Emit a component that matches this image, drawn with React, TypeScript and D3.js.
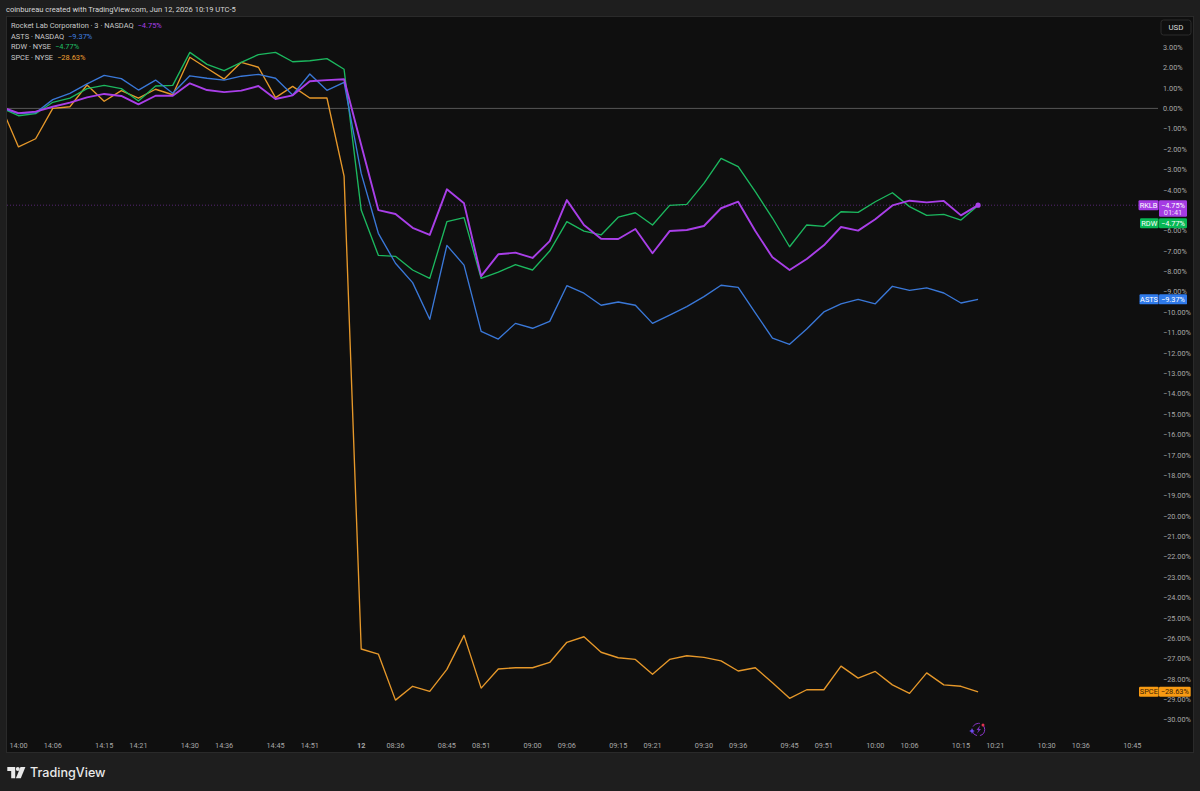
import React from "react";
import * as d3 from "d3";

const barIndex = d3.range(-1, 57);
const rklb = [0.07,-0.23,-0.16,0.08,0.28,0.54,0.71,0.61,0.20,0.62,0.62,1.23,0.90,0.80,0.87,1.10,0.46,0.64,1.33,1.39,1.43,-1.80,-4.99,-5.18,-5.86,-6.21,-3.97,-4.66,-8.23,-7.16,-7.08,-7.34,-6.51,-4.50,-5.72,-6.40,-6.41,-5.92,-7.11,-6.02,-5.97,-5.77,-4.90,-4.58,-6.02,-7.31,-7.93,-7.39,-6.72,-5.82,-6.00,-5.44,-4.76,-4.53,-4.61,-4.54,-5.25,-4.75];
const asts = [0.02,-0.25,-0.21,0.43,0.74,1.20,1.62,1.46,0.90,1.39,0.74,1.60,1.48,1.39,1.58,1.67,1.48,0.66,1.69,0.89,1.28,-3.19,-6.13,-7.60,-8.55,-10.35,-6.72,-7.69,-10.94,-11.32,-10.55,-10.79,-10.45,-8.70,-9.07,-9.66,-9.50,-9.66,-10.55,-10.14,-9.73,-9.24,-8.68,-8.78,-10.04,-11.27,-11.58,-10.83,-9.99,-9.59,-9.37,-9.59,-8.73,-8.93,-8.81,-9.06,-9.55,-9.37];
const rdw = [0.02,-0.36,-0.26,0.30,0.50,0.97,1.13,0.97,0.36,1.10,1.13,2.75,2.16,1.85,2.26,2.64,2.75,2.29,2.34,2.44,1.92,-4.99,-7.21,-7.26,-7.93,-8.34,-5.56,-5.36,-8.34,-8.04,-7.67,-7.93,-7.00,-5.56,-6.02,-6.21,-5.34,-5.12,-5.72,-4.76,-4.71,-3.68,-2.45,-2.86,-4.09,-5.38,-6.79,-5.72,-5.79,-5.07,-5.10,-4.58,-4.14,-4.82,-5.25,-5.20,-5.48,-4.77];
const spce = [0.07,-1.89,-1.49,0.00,0.08,1.15,0.35,0.87,0.50,0.94,0.67,2.51,1.97,1.44,2.26,2.02,0.53,1.08,0.51,0.51,-3.32,-26.53,-26.78,-29.04,-28.36,-28.61,-27.53,-25.86,-28.45,-27.51,-27.45,-27.45,-27.19,-26.20,-25.93,-26.69,-26.96,-27.04,-27.77,-27.04,-26.86,-26.94,-27.11,-27.61,-27.45,-28.19,-28.95,-28.53,-28.53,-27.37,-27.96,-27.63,-28.29,-28.71,-27.70,-28.29,-28.36,-28.63];

const timeTickBars = [0,2,5,7,10,12,15,17,20,22,25,27,30,32,35,37,40,42,45,47,50,52,55,57,60,62,65];
const timeTickLabels = ["14:00","14:06","14:15","14:21","14:30","14:36","14:45","14:51","12","08:36","08:45","08:51","09:00","09:06","09:15","09:21","09:30","09:36","09:45","09:51","10:00","10:06","10:15","10:21","10:30","10:36","10:45"];
const percentTicks = [3,2,1,0,-1,-2,-3,-4,-6,-7,-8,-9,-10,-11,-12,-13,-14,-15,-16,-17,-18,-19,-20,-21,-22,-23,-24,-25,-26,-27,-28,-29,-30];

const headerText = "coinbureau created with TradingView.com, Jun 12, 2026 10:19 UTC-5";
const legendNames = ["Rocket Lab Corporation · 3 · NASDAQ", "ASTS · NASDAQ", "RDW · NYSE", "SPCE · NYSE"];
const legendValues = ["−4.75%", "−9.37%", "−4.77%", "−28.63%"];
const tagNames = ["RKLB", "ASTS", "RDW", "SPCE"];

const purple = "#a93fe8", blue = "#3a78d8", green = "#1cb85f", orange = "#e6982a";
const FONT = "Roboto, 'Noto Sans', sans-serif";

const x = d3.scaleLinear().domain([0, 65]).range([18.5, 1132.3]);
const y = d3.scaleLinear().domain([0, -30]).range([108.4, 719.7]);
const line = d3.line<number>().x((_, i) => x(barIndex[i])).y(d => y(d)).curve(d3.curveLinear);
const fmt = (v: number) => (v < 0 ? "−" : "") + Math.abs(v).toFixed(2) + "%";

function Tag({ v, name, value, bg, fg = "#fff", nameX, endX, sub }: any) {
  const cy = y(v);
  const top = cy - 5;
  const h = sub ? 16.5 : 10;
  return (
    <g style={{ fontFamily: FONT, fontSize: 7.4 }}>
      <rect x={nameX} y={top} width={1158.6 - nameX} height={10} rx={1.2} fill={bg} />
      <rect x={1159} y={top} width={endX - 1159} height={h} rx={1.2} fill={bg} />
      <text x={(nameX + 1158.6) / 2} y={top + 7.6} textAnchor="middle" fill={fg}>{name}</text>
      <text x={(1159 + endX) / 2} y={top + 7.6} textAnchor="middle" fill={fg}>{value}</text>
      {sub && <text x={(1159 + endX) / 2} y={top + 14.8} textAnchor="middle" fill={fg} opacity={0.85}>{sub}</text>}
    </g>
  );
}

export default function App() {
  const series = [
    { d: spce, c: orange, w: 1.35 },
    { d: rdw, c: green, w: 1.35 },
    { d: asts, c: blue, w: 1.35 },
    { d: rklb, c: purple, w: 1.9 },
  ];
  const legendColors = [purple, "#3f7fe0", "#1fbf63", "#f0a030"];
  const legendY = [25.5, 36.3, 46.8, 57.2];
  const last = (a: number[]) => a[a.length - 1];
  return (
    <svg width={1200} height={791} viewBox="0 0 1200 791"
      style={{ position: "absolute", left: 0, top: 0, display: "block" }}>
      <defs>
        <clipPath id="plot"><rect x={7} y={17} width={1186} height={735} /></clipPath>
      </defs>
      <rect width={1200} height={791} fill="#1e1e1e" />
      <text x={6} y={11.6} fill="#d6d6d6" fontSize={7.55} fontFamily={FONT}>{headerText}</text>
      <rect x={6.5} y={16.5} width={1187} height={736} fill="#0f0f0f" stroke="#2a2a2a" strokeWidth={1} />

      <line x1={7} x2={1158} y1={y(0)} y2={y(0)} stroke="#5e5e5e" strokeWidth={0.9} />
      <line x1={7} x2={1139} y1={y(last(rklb))} y2={y(last(rklb))} stroke={purple} strokeOpacity={0.65} strokeWidth={0.7} strokeDasharray="1 2" />

      <g clipPath="url(#plot)" fill="none" strokeLinejoin="round">
        {series.map((s, i) => <path key={i} d={line(s.d) || ""} stroke={s.c} strokeWidth={s.w} />)}
      </g>
      <circle cx={x(56)} cy={y(last(rklb))} r={2.6} fill={purple} />

      <g fontFamily={FONT} fontSize={7.45}>
        {legendNames.map((n, i) => (
          <text key={n} x={11} y={legendY[i] + 2.6} fill="#c8c8c8">
            {n}<tspan dx={4} fill={legendColors[i]}>{legendValues[i]}</tspan>
          </text>
        ))}
      </g>

      <g fontFamily={FONT} fontSize={7.3} fill="#a8a8a8">
        {percentTicks.map(t => (
          <text key={t} x={1163} y={y(t) + 2.7}>{fmt(t)}</text>
        ))}
        {timeTickLabels.map((l, i) => (
          <text key={l} x={x(timeTickBars[i])} y={747.8} textAnchor="middle" fontWeight={l === "12" ? 700 : 400}>{l}</text>
        ))}
      </g>

      <rect x={1161} y={20} width={30} height={15} rx={2.5} fill="#0f0f0f" stroke="#2c2c2c" strokeWidth={1} />
      <text x={1176} y={30} textAnchor="middle" fill="#dcdcdc" fontSize={7.9} fontFamily={FONT}>USD</text>

      <Tag v={-28.63} name={tagNames[3]} value={legendValues[3]} bg="#f79a13" fg="#3a2205" nameX={1139} endX={1190.7} />
      <Tag v={-9.37} name={tagNames[1]} value={legendValues[1]} bg="#2f7aea" nameX={1139.5} endX={1187} />
      <Tag v={-4.77 - 0.87} name={tagNames[2]} value={legendValues[2]} bg="#08b855" nameX={1140} endX={1187} />
      <Tag v={-4.75} name={tagNames[0]} value={legendValues[0]} bg="#a53be4" nameX={1138.5} endX={1187} sub="01:41" />

      <g>
        <circle cx={978.5} cy={729.5} r={6.2} fill="none" stroke="#8a35c9" strokeWidth={1} strokeDasharray="8 3" />
        <path d="M980 725.5 L976.5 730 L978.5 730 L977 733.5 L981 729 L979 729 Z" fill="#7b35c0" />
        <circle cx={983} cy={725} r={1.5} fill="#e0324f" />
        <path d="M972 728 L972.8 730 L974.8 731 L972.8 732 L972 734 L971.2 732 L969.2 731 L971.2 730 Z" fill="#6d4df0" />
      </g>

      <g fill="#e9e9e9">
        <path d="M7.3 767 H15.2 V778.2 H11.2 V771 H7.3 Z" />
        <circle cx={17.8} cy={769} r={2} />
        <path d="M20.5 767 H25.4 L20.8 778.2 H15.9 Z" />
      </g>
      <text x={30} y={777} fill="#e9e9e9" fontSize={12.6} fontWeight={500} fontFamily="Inter, sans-serif">TradingView</text>
    </svg>
  );
}
